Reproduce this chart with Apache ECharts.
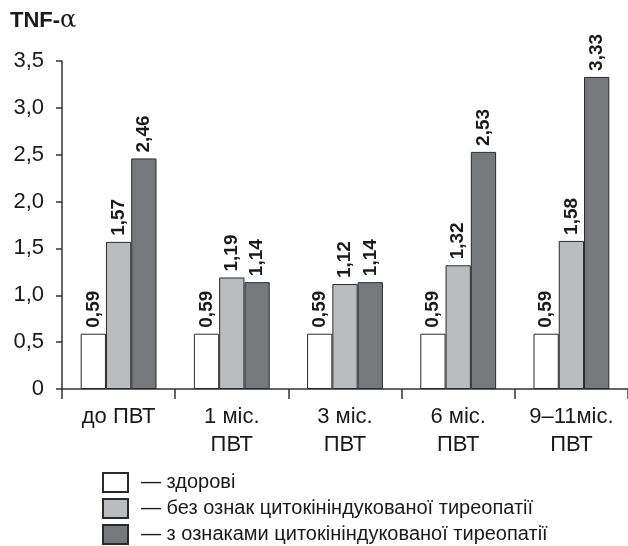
<!DOCTYPE html>
<html>
<head>
<meta charset="utf-8">
<script src="https://cdn.jsdelivr.net/npm/echarts@6/dist/echarts.min.js"></script>
<style>
  html, body { margin: 0; padding: 0; background: #fff; }
  #chart { width: 628px; height: 546px; }
</style>
</head>
<body>
<div id="chart"></div>
<script>
// TNF-α levels by period of antiviral therapy (ПВТ)
const categories = ['до ПВТ', '1 міс.\nПВТ', '3 міс.\nПВТ', '6 міс.\nПВТ', '9–11міс.\nПВТ'];
const healthy = [0.59, 0.59, 0.59, 0.59, 0.59];
const withoutThyroiditis = [1.57, 1.19, 1.12, 1.32, 1.58];
const withThyroiditis = [2.46, 1.14, 1.14, 2.53, 3.33];
const seriesNames = [
  'здорові',
  'без ознак цитокініндукованої тиреопатії',
  'з ознаками цитокініндукованої тиреопатії'
];
const yTicks = [0, 0.5, 1.0, 1.5, 2.0, 2.5, 3.0, 3.5];

const FONT = '"Liberation Sans", Arial, sans-serif';
const fills = ['#ffffff', '#bbbcbe', '#77787b'];

function fmt(v) { return v.toFixed(2).replace('.', ','); }

const chart = echarts.init(document.getElementById('chart'), null, { renderer: 'canvas' });

const label = {
  show: true,
  position: 'top',
  rotate: 90,
  align: 'left',
  verticalAlign: 'middle',
  distance: 6,
  fontFamily: FONT,
  fontWeight: 'bold',
  fontSize: 19,
  color: '#1a1a1a',
  formatter: p => fmt(p.value)
};

function bar(name, data, i) {
  return {
    name: name,
    type: 'bar',
    data: data,
    barGap: '0%',
    barCategoryGap: '33%',
    itemStyle: { color: fills[i], borderColor: '#2a2a2a', borderWidth: 1 },
    label: label,
    emphasis: { disabled: true }
  };
}

chart.setOption({
  animation: false,
  backgroundColor: '#ffffff',
  title: {
    text: '{b|TNF-}{a|α}',
    left: 10,
    top: 9,
    padding: 0,
    textStyle: {
      fontWeight: 'normal',
      rich: {
        b: { fontFamily: FONT, fontWeight: 'bold', fontSize: 22, color: '#1a1a1a' },
        a: { fontFamily: '"DejaVu Serif", "Liberation Serif", serif', fontWeight: 'normal', fontSize: 24, color: '#1a1a1a' }
      }
    }
  },
  grid: { left: 62, right: 0, top: 61, bottom: 157, containLabel: false },
  legend: {
    orient: 'vertical',
    left: 102,
    top: 472,
    height: 120,
    padding: 0,
    itemWidth: 25,
    itemHeight: 19,
    itemGap: 5,
    icon: 'rect',
    selectedMode: false,
    formatter: n => '— ' + n,
    textStyle: { fontFamily: FONT, fontSize: 20, lineHeight: 19, color: '#1a1a1a', padding: [0, 0, 0, 8] },
    data: seriesNames
  },
  xAxis: {
    type: 'category',
    data: categories,
    axisLine: { lineStyle: { color: '#333', width: 1.5 } },
    axisTick: { show: true, length: 10, lineStyle: { color: '#333', width: 1.5 } },
    axisLabel: {
      fontFamily: FONT,
      fontSize: 22,
      color: '#1a1a1a',
      margin: 14,
      lineHeight: 28
    }
  },
  yAxis: {
    type: 'value',
    min: 0,
    max: 3.5,
    interval: 0.5,
    axisLine: { show: true, lineStyle: { color: '#333', width: 1.5 } },
    axisTick: { show: true, length: 6, lineStyle: { color: '#333', width: 1.5 } },
    splitLine: { show: false },
    axisLabel: {
      fontFamily: FONT,
      fontSize: 22,
      color: '#1a1a1a',
      margin: 18,
      formatter: v => {
        const t = yTicks.find(x => Math.abs(x - v) < 1e-9);
        return t === 0 ? '0' : t.toFixed(1).replace('.', ',');
      }
    }
  },
  series: [
    bar(seriesNames[0], healthy, 0),
    bar(seriesNames[1], withoutThyroiditis, 1),
    bar(seriesNames[2], withThyroiditis, 2)
  ]
});
</script>
</body>
</html>
